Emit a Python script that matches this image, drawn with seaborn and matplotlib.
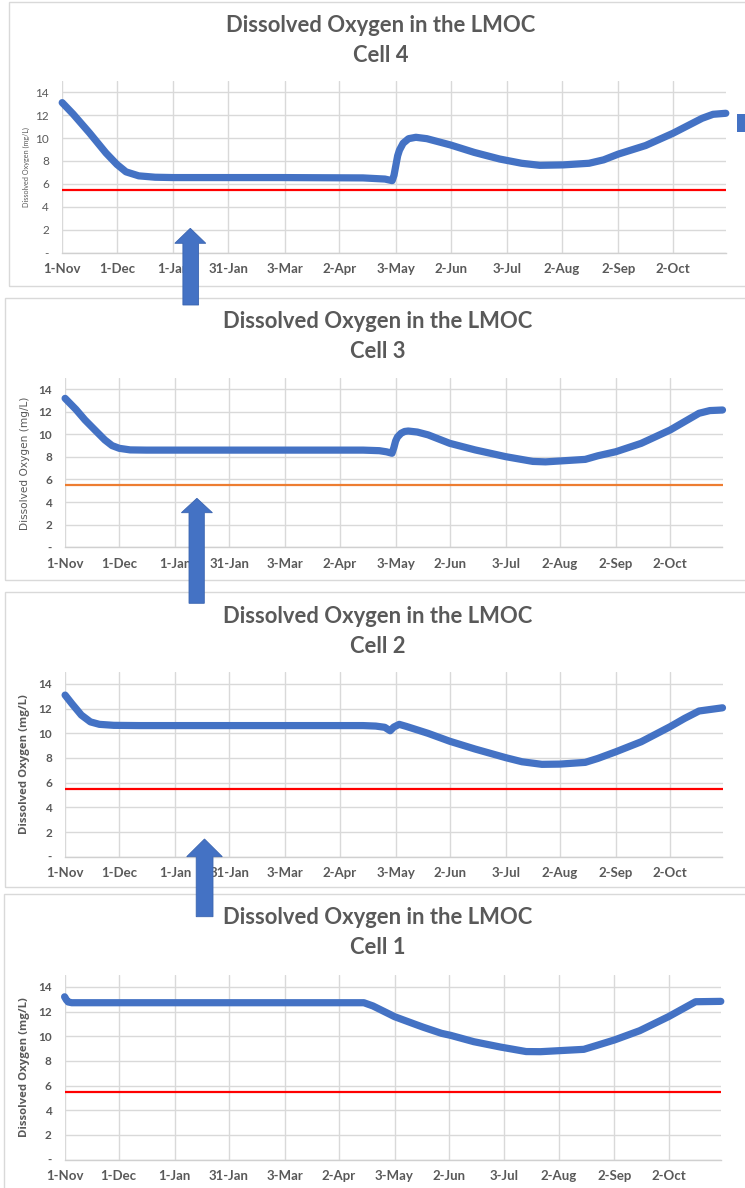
import matplotlib
matplotlib.use("Agg")
import matplotlib.pyplot as plt
from matplotlib.patches import Polygon, Rectangle
import pandas as pd
import seaborn as sns

# ---------------------------------------------------------------- data
TITLE = "Dissolved Oxygen in the LMOC"
Y_LABEL = "Dissolved Oxygen (mg/L)"
THRESHOLD = 5.5  # minimum dissolved oxygen standard (mg/L)

TICK_DATES = ["2018-11-01", "2018-12-01", "2019-01-01", "2019-01-31",
              "2019-03-03", "2019-04-02", "2019-05-03", "2019-06-02",
              "2019-07-03", "2019-08-02", "2019-09-02", "2019-10-02"]
TICK_LABELS = ["1-Nov", "1-Dec", "1-Jan", "31-Jan", "3-Mar", "2-Apr",
               "3-May", "2-Jun", "3-Jul", "2-Aug", "2-Sep", "2-Oct"]
Y_TICKS = [0, 2, 4, 6, 8, 10, 12, 14]
Y_TICK_LABELS = ["-", "2", "4", "6", "8", "10", "12", "14"]

CELL4_DATES = ["2018-11-01", "2018-11-07", "2018-11-16", "2018-11-25",
               "2018-12-01", "2018-12-06", "2018-12-13", "2018-12-22",
               "2019-01-01", "2019-03-01", "2019-04-15", "2019-04-27",
               "2019-05-01", "2019-05-02", "2019-05-03", "2019-05-04",
               "2019-05-05", "2019-05-07", "2019-05-10", "2019-05-14",
               "2019-05-20", "2019-06-02", "2019-06-15", "2019-06-29",
               "2019-07-11", "2019-07-21", "2019-08-03", "2019-08-17",
               "2019-08-25", "2019-09-02", "2019-09-17", "2019-10-02",
               "2019-10-18", "2019-10-24", "2019-10-31"]
CELL4_DO = [13.10, 12.10, 10.45, 8.70, 7.70, 7.05, 6.70, 6.58,
            6.55, 6.55, 6.52, 6.42, 6.28, 6.75, 7.60, 8.45,
            8.95, 9.55, 9.95, 10.07, 9.95, 9.40, 8.75, 8.17,
            7.80, 7.62, 7.66, 7.80, 8.10, 8.60, 9.35, 10.42,
            11.73, 12.08, 12.17]

CELL3_DATES = ["2018-11-01", "2018-11-07", "2018-11-12", "2018-11-18",
               "2018-11-23", "2018-11-27", "2018-12-01", "2018-12-07",
               "2018-12-16", "2019-03-01", "2019-04-15", "2019-04-24",
               "2019-04-28", "2019-05-01", "2019-05-02", "2019-05-03",
               "2019-05-04", "2019-05-06", "2019-05-08", "2019-05-10",
               "2019-05-15", "2019-05-21", "2019-06-02", "2019-06-16",
               "2019-07-03", "2019-07-18", "2019-07-25", "2019-08-02",
               "2019-08-16", "2019-08-23", "2019-09-02", "2019-09-16",
               "2019-10-02", "2019-10-18", "2019-10-24", "2019-10-31"]
CELL3_DO = [13.18, 12.20, 11.27, 10.30, 9.50, 9.00, 8.76, 8.62,
            8.60, 8.60, 8.60, 8.55, 8.45, 8.32, 8.80, 9.40,
            9.75, 10.09, 10.25, 10.29, 10.20, 9.95, 9.20, 8.62,
            8.02, 7.60, 7.56, 7.64, 7.78, 8.10, 8.46, 9.20,
            10.38, 11.86, 12.10, 12.15]

CELL2_DATES = ["2018-11-01", "2018-11-05", "2018-11-10", "2018-11-15",
               "2018-11-20", "2018-11-28", "2018-12-12", "2019-03-01",
               "2019-04-15", "2019-04-22", "2019-04-27", "2019-04-30",
               "2019-05-02", "2019-05-05", "2019-05-09", "2019-05-21",
               "2019-06-02", "2019-06-16", "2019-07-03", "2019-07-12",
               "2019-07-23", "2019-08-02", "2019-08-16", "2019-08-23",
               "2019-09-02", "2019-09-16", "2019-10-02", "2019-10-10",
               "2019-10-18", "2019-10-31"]
CELL2_DO = [13.09, 12.35, 11.47, 10.92, 10.72, 10.64, 10.62, 10.62,
            10.62, 10.58, 10.48, 10.20, 10.50, 10.72, 10.55, 9.99,
            9.35, 8.72, 8.02, 7.69, 7.48, 7.50, 7.64, 7.96,
            8.50, 9.31, 10.53, 11.20, 11.80, 12.06]

CELL1_DATES = ["2018-11-01", "2018-11-02", "2018-11-03", "2018-11-05",
               "2019-03-01", "2019-04-16", "2019-04-21", "2019-04-30",
               "2019-05-03", "2019-05-13", "2019-05-19", "2019-05-29",
               "2019-06-03", "2019-06-16", "2019-07-01", "2019-07-15",
               "2019-07-23", "2019-08-02", "2019-08-16", "2019-08-23",
               "2019-09-02", "2019-09-16", "2019-10-02", "2019-10-17",
               "2019-10-31"]
CELL1_DO = [13.20, 12.95, 12.78, 12.72, 12.72, 12.72, 12.46, 11.81,
            11.59, 11.05, 10.73, 10.24, 10.08, 9.56, 9.12, 8.76,
            8.75, 8.83, 8.94, 9.25, 9.70, 10.45, 11.59, 12.80,
            12.83]

# ---------------------------------------------------------------- style
W, H = 745, 1188
BLUE = "#4472C4"
TEXT = "#595959"
GRID = "#D9D9D9"

sns.set_theme(style="whitegrid")
plt.rcParams["font.family"] = ["Lato", "DejaVu Sans"]

fig = plt.figure(figsize=(W / 100, H / 100), dpi=100)
fig.patch.set_facecolor("white")


def fx(x):
    return x / W


def fy(y):
    return 1 - y / H


# one entry per chart, top to bottom
panels = [
    dict(cell="Cell 4", dates=CELL4_DATES, values=CELL4_DO, ref="#FF0000",
         box=(62.2, 725.8, 80.9, 252.5), frame=(8.5, 2, 286),
         title_x=381, title_y=(32.5, 62), ytick_bold=False, ytick_size=8.5,
         ylab=dict(x=26, y=167, size=5.2, weight="normal", family=["Lato"])),
    dict(cell="Cell 3", dates=CELL3_DATES, values=CELL3_DO, ref="#ED7D31",
         box=(65.1, 722.5, 377.8, 547.3), frame=(4.75, 298, 580),
         title_x=378, title_y=(328, 358.5), ytick_bold=True, ytick_size=8.5,
         ylab=dict(x=25, y=463, size=7.6, weight="normal",
                   family=["DejaVu Sans"])),
    dict(cell="Cell 2", dates=CELL2_DATES, values=CELL2_DO, ref="#FF0000",
         box=(65.1, 722.5, 671.5, 856.7), frame=(4.75, 592, 887),
         title_x=378, title_y=(623, 653), ytick_bold=True, ytick_size=8.5,
         ylab=dict(x=25, y=764, size=8.2, weight="bold",
                   family=["Open Sans"])),
    dict(cell="Cell 1", dates=CELL1_DATES, values=CELL1_DO, ref="#FF0000",
         box=(64.6, 720.8, 974.6, 1159.6), frame=(4, 894, 1200),
         title_x=377.5, title_y=(923.5, 954), ytick_bold=True, ytick_size=8.5,
         ylab=dict(x=25, y=1067, size=8.2, weight="bold",
                   family=["Open Sans"])),
]

tick_dates = pd.to_datetime(TICK_DATES)

for p in panels:
    # chart frame
    fx0, ftop, fbot = p["frame"]
    fig.add_artist(Rectangle((fx(fx0), fy(fbot)), fx(W + 20 - fx0),
                             (fbot - ftop) / H, transform=fig.transFigure,
                             facecolor="none", edgecolor=GRID, lw=1.0,
                             zorder=0.5))

    x0, x1, ytop, ybot = p["box"]
    ax = fig.add_axes([fx(x0), fy(ybot), fx(x1 - x0), (ybot - ytop) / H])
    ax.set_facecolor("none")

    df = pd.DataFrame({"date": pd.to_datetime(p["dates"]), "do": p["values"]})
    ax.axhline(THRESHOLD, color=p["ref"], lw=1.6, zorder=2)
    sns.lineplot(data=df, x="date", y="do", ax=ax, color=BLUE, lw=5.2,
                 solid_capstyle="round", solid_joinstyle="round",
                 zorder=3, clip_on=False)

    ax.set_xlim(pd.Timestamp("2018-11-01"), pd.Timestamp("2019-10-31"))
    ax.set_ylim(0, 15)
    ax.set_xticks(tick_dates)
    ax.set_xticklabels(TICK_LABELS)
    ax.set_yticks(Y_TICKS)
    ax.set_yticklabels(Y_TICK_LABELS)
    ax.set_xlabel("")
    ax.set_ylabel("")

    ax.grid(True, color=GRID, lw=1.0)
    ax.set_axisbelow(True)
    for side in ("top", "right", "left"):
        ax.spines[side].set_visible(False)
    ax.spines["bottom"].set_color("#D0D0D0")
    ax.spines["bottom"].set_linewidth(1.0)

    ax.tick_params(axis="x", length=0, pad=7.5, labelsize=9.5, labelcolor=TEXT)
    ax.tick_params(axis="y", length=0, pad=9.5, labelsize=p["ytick_size"],
                   labelcolor=TEXT)
    for lab in ax.get_xticklabels():
        lab.set_fontweight("bold")
    for lab in ax.get_yticklabels():
        lab.set_fontweight("bold" if p["ytick_bold"] else "normal")

    # two-line chart title
    fig.text(fx(p["title_x"]), fy(p["title_y"][0]), TITLE, ha="center",
             va="baseline", fontsize=15.8, fontweight="bold", color=TEXT)
    fig.text(fx(p["title_x"]), fy(p["title_y"][1]), p["cell"], ha="center",
             va="baseline", fontsize=15.8, fontweight="bold", color=TEXT)

    yl = p["ylab"]
    fig.text(fx(yl["x"]), fy(yl["y"]), Y_LABEL, rotation=90, ha="center",
             va="center", fontsize=yl["size"], fontweight=yl["weight"],
             color=TEXT, family=yl["family"] + ["DejaVu Sans"])


# upward flow arrows between the cells
def up_arrow(tip_x, tip_y, head_y, head_half, shaft_l, shaft_r, bottom):
    pts = [(tip_x, tip_y), (tip_x + head_half, head_y), (shaft_r, head_y),
           (shaft_r, bottom), (shaft_l, bottom), (shaft_l, head_y),
           (tip_x - head_half, head_y)]
    fig.add_artist(Polygon([(fx(x), fy(y)) for x, y in pts], closed=True,
                           transform=fig.transFigure, facecolor=BLUE,
                           edgecolor="#3A64B0", lw=0.6, zorder=5))


up_arrow(190.3, 228.3, 243.3, 15.5, 182.9, 198.6, 305)
up_arrow(196.9, 498.3, 512.7, 15.5, 189.0, 204.3, 603.3)
up_arrow(204.5, 839.0, 856.7, 17.8, 196.2, 213.0, 916.7)

# legend key peeking in at the right edge of the top chart
fig.add_artist(Rectangle((fx(737), fy(132)), fx(12), 18 / H,
                         transform=fig.transFigure, facecolor=BLUE,
                         edgecolor="none", zorder=5))

fig.savefig("out.png", dpi=100, facecolor="white")
